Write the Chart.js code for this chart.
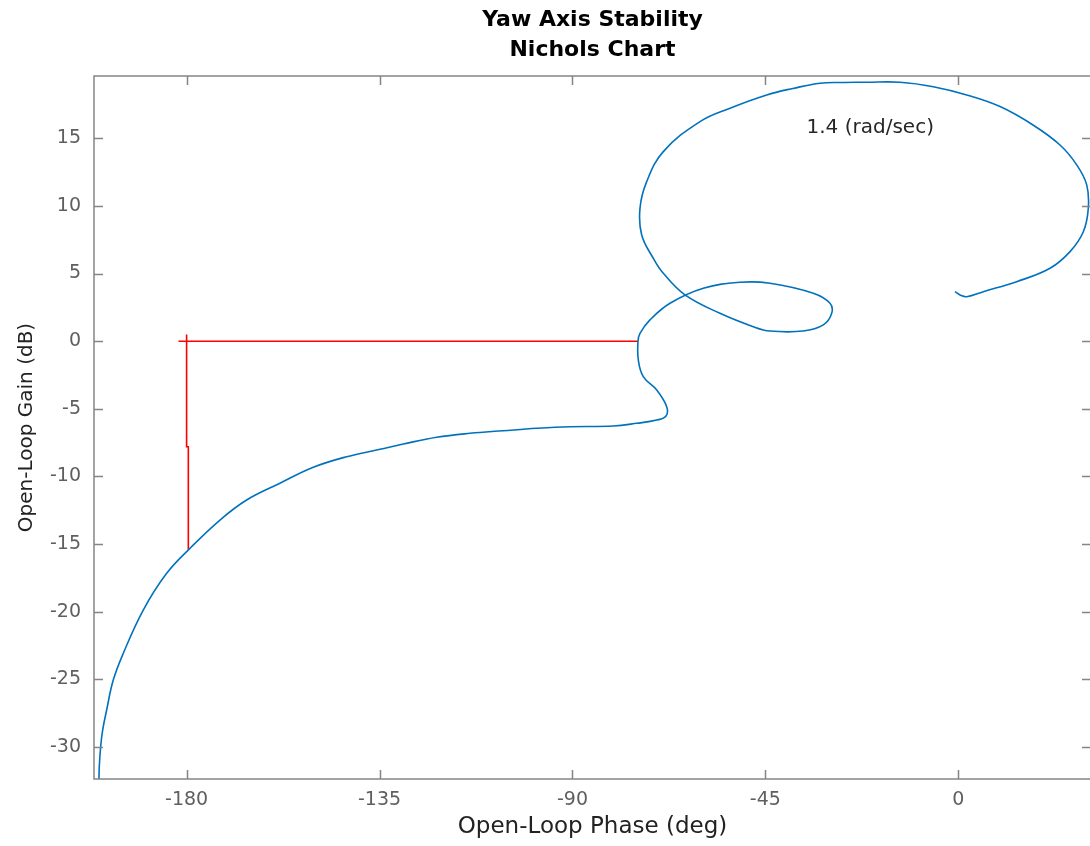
<!DOCTYPE html>
<html>
<head>
    <title>Yaw Axis Stability - Nichols Chart</title>
    <script src="https://cdn.jsdelivr.net/npm/chart.js"></script>
    <style>
        body { margin: 0; overflow: hidden; background: #fff; }
    </style>
</head>
<body>
    <canvas id="nichols" width="1092" height="846"></canvas>

    <script>
// Tick labels
const phaseTicks = [-180, -135, -90, -45, 0];
const gainTicks = [-30, -25, -20, -15, -10, -5, 0, 5, 10, 15];

// Open-loop response (low frequency first)
const curvePhase = [-0.77, 0.40, 1.96, 5.83, 13.62, 21.39, 26.06, 29.16, 30.32, 29.95,
    27.62, 23.72, 17.42, 9.73, 1.96, -5.83, -13.60, -21.37, -26.43, -32.26,
    -38.56, -44.69, -53.25, -60.25, -68.81, -72.69, -74.25, -73.85, -71.15, -68.81,
    -63.75, -55.59, -47.82, -43.92, -36.16, -31.49, -29.53, -29.93, -33.82, -43.92,
    -50.92, -59.48, -67.25, -71.92, -74.25, -74.71, -74.64, -73.48, -70.35, -68.02,
    -68.18, -70.35, -75.02, -80.48, -90.58, -98.34, -106.13, -113.90, -121.67, -129.46,
    -134.90, -142.66, -150.45, -158.23, -166.00, -172.22, -179.21, -184.65, -190.11, -194.77,
    -197.11, -198.65, -199.58, -200.05, -200.37, -200.44, -200.60];
const curveGain = [3.66, 3.42, 3.29, 3.66, 4.40, 5.39, 6.62, 8.09, 9.82, 11.55,
    13.03, 14.50, 15.98, 17.34, 18.20, 18.81, 19.14, 19.14, 19.12, 19.07,
    18.68, 18.20, 17.22, 16.23, 14.01, 11.79, 9.82, 7.85, 6.13, 5.02,
    3.42, 2.06, 1.07, 0.75, 0.75, 1.20, 2.06, 2.80, 3.54, 4.28,
    4.35, 3.91, 2.80, 1.57, 0.58, 0.00, -1.39, -2.62, -3.61, -4.84,
    -5.53, -5.83, -6.07, -6.27, -6.32, -6.44, -6.62, -6.81, -7.10, -7.60,
    -7.99, -8.54, -9.32, -10.50, -11.74, -13.22, -15.31, -17.16, -19.87, -23.07,
    -25.05, -27.26, -28.74, -29.98, -31.46, -32.36, -34.00];

// Stability margin marker (red)
const marginPhase = [-181.9, -74.7, -180, -180, -180, -179.6, -179.6];
const marginGain = [0, 0, null, 0.5, -7.8, -7.8, -15.4];

const titleLines = ['Yaw Axis Stability', 'Nichols Chart'];
const freqLabel = '1.4 (rad/sec)';

const toPoints = (xs, ys) => xs.map((v, i) => ({ x: v, y: ys[i] }));

// box round the plot with inward tick marks, plus the frequency note
const framePlugin = {
    id: 'frame',
    afterDraw(chart) {
        const { ctx, chartArea: a, scales: { x, y } } = chart;
        ctx.save();
        ctx.strokeStyle = '#858585';
        ctx.lineWidth = 1.5;
        ctx.strokeRect(a.left, a.top, a.right - a.left, a.bottom - a.top);
        ctx.beginPath();
        phaseTicks.forEach(v => {
            const px = Math.round(x.getPixelForValue(v)) + 0.5;
            ctx.moveTo(px, a.bottom); ctx.lineTo(px, a.bottom - 9);
            ctx.moveTo(px, a.top); ctx.lineTo(px, a.top + 9);
        });
        gainTicks.forEach(v => {
            const py = Math.round(y.getPixelForValue(v)) + 0.5;
            ctx.moveTo(a.left, py); ctx.lineTo(a.left + 9, py);
            ctx.moveTo(a.right, py); ctx.lineTo(a.right - 9, py);
        });
        ctx.stroke();

        ctx.fillStyle = '#262626';
        ctx.font = '20px "DejaVu Sans"';
        ctx.textAlign = 'left';
        ctx.textBaseline = 'alphabetic';
        ctx.fillText(freqLabel, x.getPixelForValue(-35.4), y.getPixelForValue(15.4));
        ctx.restore();
    }
};

new Chart(document.getElementById('nichols').getContext('2d'), {
    type: 'scatter',
    data: {
        datasets: [{
            label: 'Open loop',
            data: toPoints(curvePhase, curveGain),
            showLine: true,
            borderColor: '#0072BD',
            borderWidth: 1.6,
            pointRadius: 0,
            tension: 0.4,
            fill: false
        }, {
            label: 'Margin',
            data: toPoints(marginPhase, marginGain),
            showLine: true,
            spanGaps: false,
            borderColor: '#FF0000',
            borderWidth: 1.6,
            pointRadius: 0,
            tension: 0,
            fill: false
        }]
    },
    options: {
        responsive: false,
        animation: false,
        layout: { padding: { top: 0, right: 1, bottom: 0, left: 0 } },
        plugins: {
            legend: { display: false },
            tooltip: { enabled: false },
            title: {
                display: true,
                text: titleLines,
                fullSize: false,
                color: '#000',
                font: { family: 'DejaVu Sans', size: 22, weight: 'bold', lineHeight: '30px' },
                padding: { top: 5, bottom: 11 }
            }
        },
        scales: {
            x: {
                type: 'linear',
                min: -201.6,
                max: 30.95,
                grid: { display: false, drawTicks: false },
                border: { display: false },
                afterBuildTicks: s => { s.ticks = phaseTicks.map(v => ({ value: v })); },
                afterFit: s => { s.height = 67; },
                ticks: {
                    autoSkip: false,
                    maxRotation: 0,
                    padding: 10,
                    color: '#5f5f5f',
                    font: { family: 'DejaVu Sans', size: 19 }
                },
                title: {
                    display: true,
                    text: 'Open-Loop Phase (deg)',
                    color: '#222',
                    font: { family: 'DejaVu Sans', size: 23 },
                    padding: { top: 0, bottom: 5 }
                }
            },
            y: {
                type: 'linear',
                min: -32.36,
                max: 19.6,
                grid: { display: false, drawTicks: false },
                border: { display: false },
                afterBuildTicks: s => { s.ticks = gainTicks.map(v => ({ value: v })); },
                afterFit: s => { s.width = 94; },
                ticks: {
                    autoSkip: false,
                    padding: 13,
                    color: '#5f5f5f',
                    font: { family: 'DejaVu Sans', size: 19 }
                },
                title: {
                    display: true,
                    text: 'Open-Loop Gain (dB)',
                    color: '#222',
                    font: { family: 'DejaVu Sans', size: 20 },
                    padding: { top: 15, bottom: 0 }
                }
            }
        }
    },
    plugins: [framePlugin]
});
    </script>
</body>
</html>
